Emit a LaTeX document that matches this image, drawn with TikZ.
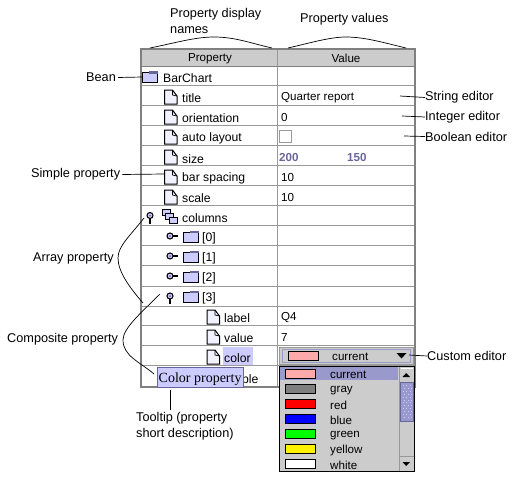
\documentclass[tikz,border=0pt]{standalone}
\usepackage{fontspec}
\setmainfont{Liberation Sans}
\newfontfamily\tipfont{Liberation Serif}
\definecolor{lav}{RGB}{204,204,255}
\definecolor{lavdark}{RGB}{102,102,153}
\definecolor{lavmid}{RGB}{153,153,204}
\definecolor{panel}{RGB}{204,204,204}
\definecolor{frame}{RGB}{128,128,128}
\definecolor{rowgray}{RGB}{153,153,153}
\tikzset{
  txt/.style={anchor=west, inner sep=0pt, yshift=-1pt, font=\fontsize{11.6}{13}\selectfont},
  ctxt/.style={txt, anchor=center},
  ntxt/.style={txt, font=\fontsize{12.2}{13}\selectfont},
  call/.style={txt, font=\fontsize{12.7}{14}\selectfont},
  leader/.style={black, line width=0.7pt},
  swatch/.style={draw=black, line width=0.9pt},
  doc/.pic={
    \draw[black, line width=1pt, fill=lav!25] (0,0) -- (8,0) -- (12.5,6) -- (12.5,14) -- (0,14) -- cycle;
    \draw[black, line width=0.7pt] (8,0) -- (8,5) -- (12.5,6);
  },
  folder/.pic={
    \draw[black, line width=0.7pt, fill=lav] (0,2) rectangle (15.5,12);
    \fill[lavdark] (7,0.5) rectangle (15.5,3);
  },
  knobopen/.pic={
    \draw[black, line width=1.3pt] (0,3) -- (0,8);
    \draw[black, line width=1.1pt, fill=lav] (0,0) circle (3);
    \fill[lavdark] (0,0) circle (1);
  },
  knobclosed/.pic={
    \draw[black, line width=1.3pt] (3,0) -- (8,0);
    \draw[black, line width=1.1pt, fill=lav] (0,0) circle (3);
    \fill[lavdark] (0,0) circle (1);
  },
  stacked/.pic={
    \draw[black, line width=0.7pt, fill=lav] (0,0) rectangle (8,6);
    \draw[black, line width=0.7pt, fill=lav] (3,4) rectangle (11,10);
    \draw[black, line width=0.7pt, fill=lav] (7,8) rectangle (15,14.5);
  }
}
\begin{document}
\begin{tikzpicture}[x=1pt, y=-1pt]
\useasboundingbox (0,0) rectangle (515,477);
% table
\fill[panel] (141,49) rectangle (414,66);
\foreach \y in {85,105,125,145,165,185,205,225,245,265,286,306,325,345,365}
  \draw[rowgray, line width=0.7pt] (141,\y) -- (414,\y);
\draw[rowgray, line width=0.7pt] (277,49) -- (277,386);
\draw[frame, line width=0.7pt] (141,66) -- (414,66);
\draw[frame, line width=2pt] (140.5,387) -- (140.5,48.5) -- (414.5,48.5) -- (414.5,387) -- cycle;
\node[ctxt] (hdprop) at (210,57.5) {Property};
\node[ctxt] (hdval) at (346,57.5) {Value};
% names
\pic at (142,70.5) {folder};
\coordinate (beanicon) at (142,77);
\node[ntxt] (barchart) at (163,77.5) {BarChart};
\pic at (164.5,90) {doc};
\node[ntxt] (title) at (182,97.5) {title};
\pic at (164.5,110) {doc};
\node[ntxt] (orient) at (182,117.5) {orientation};
\pic at (164.5,130) {doc};
\node[ntxt] (autolay) at (182,137.5) {auto layout};
\pic at (164.5,150) {doc};
\node[ntxt] (sizep) at (182,158) {size};
\pic at (164.5,170) {doc};
\coordinate (baricon) at (164,174);
\node[ntxt] (barsp) at (182,177.5) {bar spacing};
\pic at (164.5,190) {doc};
\node[ntxt] (scalep) at (182,197.5) {scale};
\pic at (150,215.5) {knobopen};
\pic at (162,209) {stacked};
\node[ntxt] (columns) at (182,217.5) {columns};
\pic at (170,236) {knobclosed};
\pic at (183,230) {folder};
\node[ntxt] (c0) at (202,237.5) {[0]};
\pic at (170,256) {knobclosed};
\pic at (183,250) {folder};
\node[ntxt] (c1) at (202,257.5) {[1]};
\pic at (170,276) {knobclosed};
\pic at (183,270) {folder};
\node[ntxt] (c2) at (202,277.5) {[2]};
\pic at (170,296) {knobopen};
\pic at (183,290) {folder};
\node[ntxt] (c3) at (202,297.5) {[3]};
\pic at (207,310) {doc};
\node[ntxt] (labelp) at (224,317.5) {label};
\pic at (207,330) {doc};
\node[ntxt] (valuep) at (224,337.5) {value};
\pic at (207,350) {doc};
\fill[lav] (223,347) rectangle (253,365);
\node[ntxt] (colorp) at (224,357.5) {color};
\node[ntxt] (visible) at (242,378) {ble};
% values
\node[txt] (vtitle) at (281,97) {Quarter report};
\node[txt] (vorient) at (281,117) {0};
\draw[rowgray, line width=0.8pt, fill=white] (279.5,130.5) rectangle (291,142.5);
\node[txt, font=\fontsize{11.6}{13}\selectfont\bfseries, text=lavdark] (vw) at (279,156.5) {200};
\node[txt, font=\fontsize{11.6}{13}\selectfont\bfseries, text=lavdark] (vh) at (347,156.5) {150};
\node[txt] (vsp) at (281,177) {10};
\node[txt] (vsc) at (281,197) {10};
\node[txt] (vlabel) at (281,317) {Q4};
\node[txt] (vvalue) at (281,337) {7};
% combo
\draw[rowgray, line width=0.7pt, fill=panel] (279.5,347) rectangle (413,364);
\draw[lavmid, line width=0.9pt] (282,349.5) rectangle (410.5,362);
\draw[swatch, fill={rgb,255:red,255;green,170;blue,170}] (288.5,351.5) rectangle (318.5,360);
\node[txt] (vcolor) at (332,355.5) {current};
\fill[black] (396.5,353) -- (406.5,353) -- (401.5,358.5) -- cycle;
\coordinate (comboend) at (409,355);
% drop down list
\draw[black, line width=1pt, fill=panel] (279.5,366) rectangle (414,471);
\fill[lavmid] (280,367) rectangle (398,380);
\draw[swatch, fill={rgb,255:red,255;green,170;blue,170}] (285.5,369.5) rectangle (315.5,378);
\node[txt] (lcurrent) at (330,374) {current};
\draw[swatch, fill=frame] (285.5,384.5) rectangle (315.5,393);
\node[txt] (lgray) at (330,389.5) {gray};
\draw[swatch, fill=red] (285.5,399.5) rectangle (315.5,408);
\node[txt] (lred) at (330,404) {red};
\draw[swatch, fill=blue] (285.5,414.5) rectangle (315.5,423);
\node[txt] (lblue) at (330,419) {blue};
\draw[swatch, fill=green] (285.5,429.5) rectangle (315.5,438);
\node[txt] (lgreen) at (330,434.5) {green};
\draw[swatch, fill=yellow] (285.5,444.5) rectangle (315.5,453);
\node[txt] (lyellow) at (330,449) {yellow};
\draw[swatch, fill=white] (285.5,459.5) rectangle (315.5,468);
\node[txt] (lwhite) at (330,464) {white};
% scroll bar
\draw[rowgray, line width=0.7pt] (399,367) -- (399,470.5);
\draw[white, line width=0.7pt] (400.5,368) -- (413,368);
\fill[black] (402.5,377) -- (410,377) -- (406.2,373) -- cycle;
\draw[lavdark, line width=0.7pt, fill=lavmid] (400,382) rectangle (413.5,421);
\foreach \i in {0,...,11}
  \foreach \j in {0,1,2}
    \fill[lav] ({402.5+\j*3.5+mod(\i,2)*1.7},{385+\i*2.9}) rectangle +(1,1);
\draw[rowgray, line width=0.7pt] (400,456.5) -- (413.5,456.5);
\fill[black] (402.5,462) -- (410,462) -- (406.2,466) -- cycle;
% tooltip
\draw[lavdark, line width=0.7pt, fill=lav] (157.5,367) rectangle (243,387);
\node[txt, font=\tipfont\fontsize{14}{15}\selectfont] (tooltip) at (158.5,378) {Color property};
% callouts
\node[call] (dispnames) at (170,13) {Property display};
\node[call] (dispnames2) at (170,29) {names};
\node[call] (valnames) at (300,18) {Property values};
\coordinate (b1a) at (150,48);
\coordinate (b1b) at (214,37);
\coordinate (b1c) at (272,48);
\coordinate (b2a) at (288,48);
\coordinate (b2b) at (346,37);
\coordinate (b2c) at (406,48);
\draw[leader] (b1a) .. controls (175,43) and (195,37) .. (b1b) .. controls (235,37) and (250,43) .. (b1c);
\draw[leader] (b2a) .. controls (310,43) and (330,37) .. (b2b) .. controls (365,37) and (385,43) .. (b2c);
\node[call] (bean) at (86,76.5) {Bean};
\draw[leader] (bean.east) ++(2,0) -- (beanicon);
\node[call] (simple) at (31,173.5) {Simple property};
\draw[leader] (simple.east) ++(2,0) -- (baricon);
\node[call] (array) at (33,257.5) {Array property};
\coordinate (arrayst) at (144,218);
\coordinate (arraymid) at (118,258);
\coordinate (arrayend) at (143,303);
\draw[leader] (arrayst) .. controls (130,236) and (118,246) .. (arraymid) .. controls (118,272) and (130,288) .. (arrayend);
\node[call] (composite) at (7,338.5) {Composite property};
\coordinate (compst) at (160,294);
\coordinate (compmid) at (123,340);
\coordinate (compend) at (154,374);
\draw[leader] (compst) .. controls (142,312) and (123,328) .. (compmid) .. controls (123,356) and (140,362) .. (compend);
\node[call] (stred) at (425,96.5) {String editor};
\coordinate (stredst) at (400,96);
\draw[leader] (stredst) -- (stred.west);
\node[call] (inted) at (425,116) {Integer editor};
\coordinate (intedst) at (402,116);
\draw[leader] (intedst) -- (inted.west);
\node[call] (booled) at (425,135.5) {Boolean editor};
\coordinate (booledst) at (404,136);
\draw[leader] (booledst) -- (booled.west);
\node[call] (custed) at (427,355) {Custom editor};
\draw[leader] (comboend) -- (custed.west);
\node[call] (tipa) at (136,417) {Tooltip (property};
\node[call] (tipb) at (136,433) {short description)};
\coordinate (tiptop) at (170,390);
\coordinate (tipbot) at (170,410);
\draw[leader] (tiptop) -- (tipbot);
\end{tikzpicture}
\end{document}
